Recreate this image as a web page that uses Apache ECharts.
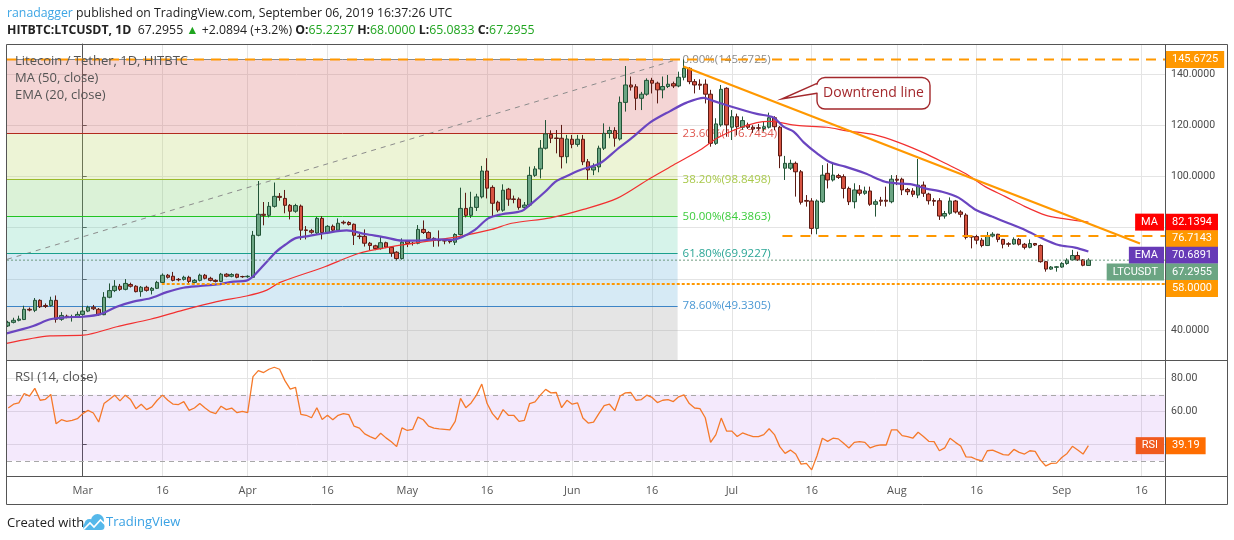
<!DOCTYPE html>
<html>
<head>
<meta charset="utf-8">
<title>LTCUSDT 1D</title>
<script src="https://cdn.jsdelivr.net/npm/echarts@6.0.0/dist/echarts.min.js"></script>
<style>
  html, body { margin: 0; padding: 0; background: #fff; }
  #chart { width: 1234px; height: 540px; }
</style>
</head>
<body>
<div id="chart"></div>
<script>
// LTCUSDT daily candles with MA/EMA, fib retracement and RSI pane.
// x values are days counted from Mar 1 2019 (Feb 15 = -14).
(function () {
  var FIRST_DAY = -14;
  var X_MIN = -14.23, X_MAX = 203.4;
  var PRICE_MIN = 28.3, PRICE_MAX = 151.7;
  var RSI_MIN = 20.8, RSI_MAX = 91.1;

  // [open, close, low, high], one row per day from Feb 15
  var candles = [
    [41.6, 43.0, 41.2, 43.6], [43.0, 43.8, 42.6, 44.8], [43.8, 44.3, 43.4, 45.6], [44.1, 48.1, 43.9, 49.5],
    [48.1, 47.8, 47.3, 48.8], [47.7, 51.6, 47.0, 52.5], [51.6, 49.1, 48.6, 52.0], [49.6, 49.2, 48.6, 50.4],
    [49.6, 51.6, 49.1, 53.0], [51.6, 44.2, 42.9, 53.5], [44.2, 45.7, 43.6, 47.0], [45.4, 45.2, 44.6, 46.0],
    [45.1, 45.3, 43.3, 46.0], [45.2, 46.1, 44.8, 47.2],
    [46.1, 47.4, 45.8, 49.5], [47.4, 48.9, 47.0, 49.5], [48.9, 48.3, 47.8, 49.8], [48.1, 46.0, 45.6, 48.6],
    [46.0, 52.8, 45.8, 54.8], [52.8, 55.4, 52.4, 58.2], [55.4, 57.1, 54.8, 59.5], [57.1, 55.9, 55.3, 58.0],
    [55.9, 58.2, 55.5, 59.9], [57.8, 57.1, 56.6, 58.5], [57.1, 55.0, 54.7, 57.5], [55.0, 56.7, 53.0, 57.2],
    [56.7, 55.5, 55.0, 57.3], [55.5, 56.3, 53.9, 56.8], [56.3, 58.6, 56.0, 59.2], [58.6, 61.4, 58.2, 62.1],
    [61.4, 60.6, 60.1, 61.9], [61.0, 59.4, 59.0, 62.7], [59.8, 59.6, 59.0, 60.3], [59.8, 60.6, 59.3, 61.2],
    [60.6, 59.0, 58.0, 61.2], [58.6, 59.4, 58.2, 59.9], [59.4, 61.4, 59.0, 62.0], [61.4, 60.2, 59.8, 61.9],
    [60.2, 59.4, 59.0, 60.8], [59.4, 59.0, 58.6, 59.8], [59.0, 61.8, 58.7, 62.3], [61.8, 61.0, 60.6, 62.2],
    [61.0, 61.7, 60.6, 62.2], [61.8, 60.6, 60.2, 62.0], [60.9, 60.8, 60.4, 61.2],
    [60.8, 61.0, 60.4, 61.4], [60.6, 77.0, 60.3, 78.7], [77.0, 85.2, 76.6, 98.2], [85.2, 84.8, 80.9, 90.0],
    [84.8, 88.3, 84.0, 90.0], [88.3, 92.2, 87.8, 97.6], [92.2, 91.8, 90.5, 93.5], [91.4, 88.7, 85.6, 94.7],
    [88.7, 86.4, 83.2, 89.2], [86.4, 88.6, 85.8, 89.3], [88.4, 79.0, 75.2, 89.0], [79.1, 78.9, 75.4, 80.6],
    [78.8, 78.2, 77.6, 79.5], [77.9, 83.6, 77.5, 84.2], [83.6, 78.1, 75.4, 84.5], [78.0, 80.5, 77.6, 81.0],
    [80.5, 79.0, 78.6, 81.2], [79.0, 81.7, 78.5, 83.6], [82.1, 81.8, 81.2, 82.8], [82.0, 81.2, 80.8, 82.5],
    [81.3, 77.0, 73.2, 81.6], [76.7, 76.5, 75.5, 77.5], [76.6, 73.9, 72.6, 79.3], [73.9, 73.0, 71.2, 74.4],
    [72.9, 71.8, 71.2, 73.3], [71.8, 74.1, 71.4, 76.5], [74.1, 72.4, 72.0, 74.5], [72.3, 70.0, 68.6, 72.6],
    [70.4, 67.9, 67.1, 70.8], [67.9, 74.3, 67.5, 75.8],
    [74.7, 73.8, 72.4, 75.0], [73.9, 73.8, 73.0, 74.4], [73.9, 79.3, 73.5, 81.0], [79.3, 78.1, 77.5, 82.8],
    [78.1, 75.8, 75.4, 78.6], [75.8, 75.0, 72.5, 76.2], [75.0, 74.9, 72.6, 78.9], [74.9, 74.8, 73.5, 75.5],
    [74.8, 74.5, 73.8, 75.3], [74.3, 77.3, 73.2, 77.8], [77.3, 87.5, 76.9, 95.6], [87.5, 84.8, 84.0, 93.6],
    [84.8, 87.9, 83.8, 94.0], [87.9, 92.0, 86.5, 93.2], [92.0, 102.1, 91.4, 104.1], [102.1, 95.4, 91.4, 107.1],
    [95.7, 89.5, 84.3, 96.5], [89.9, 86.8, 86.0, 90.5], [86.8, 94.6, 86.2, 96.9], [95.0, 91.1, 88.5, 95.5],
    [91.2, 91.0, 89.5, 92.5], [91.1, 87.9, 87.0, 91.8], [87.9, 88.8, 86.8, 90.0], [88.8, 100.4, 88.2, 103.8],
    [100.4, 102.9, 99.8, 104.0], [102.9, 111.0, 99.2, 114.2], [111.0, 116.6, 110.5, 122.0], [116.4, 114.9, 113.0, 118.0],
    [115.0, 114.8, 109.0, 118.1], [114.9, 107.7, 103.1, 120.1], [107.7, 114.6, 105.1, 116.2],
    [114.5, 112.5, 111.0, 116.2], [112.5, 114.5, 111.6, 116.2], [114.5, 105.7, 104.4, 116.2], [105.7, 102.5, 98.6, 106.8],
    [102.5, 103.7, 100.5, 105.1], [103.7, 111.0, 101.6, 112.0], [111.0, 116.8, 110.3, 120.7], [116.8, 117.9, 114.9, 119.4],
    [117.9, 114.9, 111.6, 119.2], [114.6, 128.9, 114.0, 131.2], [128.9, 135.7, 125.3, 143.1], [135.7, 134.9, 133.5, 139.0],
    [135.0, 130.5, 125.9, 136.0], [130.5, 132.1, 125.9, 133.0], [132.1, 137.5, 131.5, 138.3], [137.5, 136.4, 132.4, 138.5],
    [136.4, 133.8, 128.5, 137.0], [133.8, 135.1, 130.5, 139.0], [135.1, 136.0, 134.5, 139.6], [136.2, 135.3, 134.5, 137.0],
    [135.3, 138.7, 134.8, 140.9], [138.7, 142.2, 137.5, 145.6725], [142.2, 137.0, 136.0, 142.6], [137.0, 135.7, 132.4, 138.0],
    [136.0, 135.6, 133.8, 137.9], [136.0, 132.1, 128.5, 137.9], [132.1, 112.9, 111.6, 133.8], [112.9, 120.5, 112.3, 122.7],
    [120.1, 134.0, 119.4, 135.7], [134.4, 120.1, 115.5, 134.8],
    [119.2, 123.3, 114.2, 125.9], [123.3, 119.4, 116.0, 124.5], [119.2, 121.8, 118.2, 123.4], [120.1, 119.2, 118.5, 121.0],
    [119.2, 118.5, 117.0, 120.0], [119.0, 118.8, 117.9, 120.5], [118.7, 119.4, 117.5, 121.3], [119.2, 122.9, 118.7, 124.9],
    [122.9, 119.4, 118.0, 123.5], [119.2, 108.0, 103.2, 119.7], [103.2, 105.1, 98.6, 108.0], [103.2, 105.1, 102.5, 106.5],
    [105.1, 101.8, 92.1, 105.8], [101.8, 89.9, 89.0, 102.5], [90.6, 90.3, 88.2, 92.7], [90.4, 79.7, 77.4, 91.5],
    [79.7, 90.4, 77.4, 91.0], [90.1, 100.5, 89.6, 104.4], [101.2, 98.6, 95.3, 105.1], [98.6, 100.5, 98.0, 105.4],
    [100.3, 99.6, 99.0, 101.0], [99.9, 95.3, 91.4, 100.8], [95.3, 90.1, 88.8, 96.0], [90.1, 94.7, 87.5, 97.3],
    [94.7, 93.4, 92.5, 96.6], [93.4, 94.3, 92.8, 96.0], [94.3, 89.1, 88.5, 96.0], [89.1, 90.1, 84.3, 91.0],
    [90.7, 90.3, 88.5, 92.0], [90.7, 90.3, 88.2, 96.0], [90.1, 98.9, 89.5, 100.5],
    [98.9, 98.5, 96.6, 100.5], [98.9, 94.7, 92.7, 99.5], [94.9, 94.0, 92.7, 95.5], [94.3, 93.0, 92.0, 95.4],
    [92.7, 96.6, 91.5, 106.8], [96.6, 93.4, 92.0, 98.0], [93.1, 90.5, 89.0, 93.6], [90.6, 90.3, 88.5, 91.5],
    [90.5, 84.5, 83.0, 91.5], [84.5, 85.5, 83.5, 86.5], [85.6, 90.4, 85.0, 91.8], [90.4, 86.1, 85.5, 90.8],
    [86.1, 85.2, 84.0, 86.8], [84.9, 76.2, 75.4, 85.6], [76.6, 76.3, 71.9, 77.0], [76.5, 75.1, 73.5, 77.2],
    [75.1, 73.0, 72.3, 76.0], [73.0, 76.7, 72.8, 78.3], [76.7, 77.4, 76.2, 78.2], [77.4, 75.4, 74.3, 77.6],
    [75.4, 73.5, 71.9, 75.6], [73.7, 73.5, 72.5, 74.3], [73.6, 75.4, 73.3, 76.2], [75.4, 73.5, 73.0, 75.9],
    [73.5, 72.3, 71.5, 74.0], [72.3, 73.8, 71.9, 75.4], [73.8, 73.2, 72.8, 74.0], [73.0, 66.7, 66.3, 73.4],
    [66.7, 63.8, 62.8, 67.0], [63.8, 64.6, 63.5, 65.0], [64.5, 64.7, 62.8, 65.0],
    [64.6, 66.0, 64.3, 66.5], [66.0, 67.3, 65.5, 68.0], [67.4, 69.1, 67.0, 71.3], [69.1, 67.4, 67.0, 70.6],
    [67.4, 65.3, 64.9, 67.7], [65.2237, 67.2955, 65.0833, 68.0]
  ];

  // EMA (20) and MA (50) at sample days: [day, value]
  var ema20 = [
    [-14.3, 38.7], [-9.3, 41.6], [-6.1, 44.2], [-3, 45.0], [0.1, 45.2], [3.3, 46.2], [6.4, 49.1], [9.5, 51.1],
    [12.7, 52.4], [15.8, 54.8], [18.9, 56.5], [22.1, 57.2], [25.2, 57.8], [28.3, 58.9], [30.8, 59.3], [32.1, 61.1],
    [34.6, 66.7], [36.5, 70.8], [38, 73.2], [39.9, 75.8], [42.4, 76.7], [45.5, 77.8], [49.6, 78.9], [53.1, 77.5],
    [56.8, 76.2], [60, 74.9], [63.1, 74.9], [66.2, 75.4], [69.4, 75.2], [71.2, 76.2], [73.7, 79.1], [76.2, 83.6],
    [78.8, 85.2], [82.5, 86.5], [84.4, 89.5], [86.9, 94.0], [88.8, 97.9], [90.3, 99.5], [93.5, 102.5], [97.2, 105.1],
    [100.4, 110.5], [103.5, 115.5], [106.6, 121.0], [110.4, 125.5], [113.5, 128.8], [116.7, 130.7], [118.5, 129.5],
    [122.3, 127.0], [126.7, 124.4], [129.8, 123.0], [131.7, 119.4], [133.6, 117.5], [135.5, 113.3], [138, 109.0],
    [140.5, 105.5], [143.3, 103.8], [147, 101.2], [150.8, 97.9], [153, 97.3], [155.8, 96.9], [158.3, 95.3],
    [161.5, 94.0], [164.6, 91.7], [167.7, 87.1], [170.9, 84.3], [174, 81.7], [177.1, 79.1], [180.3, 75.8],
    [183.4, 73.2], [186.5, 72.2], [189, 70.6891]
  ];
  var ma50 = [
    [-14.3, 34.8], [-6.1, 37.7], [0.1, 38.0], [6.4, 41.3], [12.7, 44.2], [18.9, 47.8], [25.2, 51.1], [30.8, 53.3],
    [34.6, 55.6], [37.1, 58.6], [45.5, 64.7], [51.8, 69.9], [58.1, 72.6], [64.3, 74.5], [70.6, 76.5], [76.9, 79.3],
    [80.6, 81.7], [87.9, 83.8], [94.1, 87.1], [100.4, 91.4], [106.6, 99.2], [111.6, 105.1], [116, 110.3],
    [119.2, 114.9], [122.9, 118.5], [126.7, 121.0], [129.2, 121.5], [134.2, 119.9], [139.8, 119.2], [143.6, 117.8],
    [148.9, 116.2], [153.3, 113.3], [158.3, 109.0], [162.1, 105.1], [165.8, 101.2], [169.6, 96.0], [173.4, 92.1],
    [177.1, 88.2], [180.9, 84.9], [184, 83.6], [189, 82.1394]
  ];

  // RSI (14), one value per day from Feb 15
  var rsi14 = [
    62.0, 64.3, 65.1, 70.8, 69.2, 73.9, 66.7, 67.3, 70.2, 52.4, 54.9, 53.9, 54.5, 55.5,
    58.6, 60.6, 59.0, 53.5, 64.7, 67.1, 69.8, 66.3, 69.8, 67.1, 61.6, 64.3, 61.0, 62.7, 66.7, 69.8,
    66.7, 64.3, 64.1, 65.9, 60.6, 62.0, 64.7, 62.0, 59.6, 58.6, 63.1, 61.0, 62.0, 59.2, 60.0,
    59.2, 81.0, 84.7, 83.5, 85.5, 86.7, 85.5, 78.6, 73.5, 74.5, 58.2, 57.6, 56.1, 62.2, 55.1,
    57.6, 54.9, 57.6, 58.6, 58.0, 51.0, 49.8, 46.3, 44.7, 43.3, 46.7, 43.9, 41.6, 38.6, 50.0,
    48.4, 49.0, 56.5, 54.9, 51.0, 49.8, 49.4, 49.1, 48.8, 53.9, 67.8, 62.2, 65.1, 69.8, 76.5,
    64.7, 58.6, 54.9, 61.0, 57.6, 57.6, 53.9, 54.5, 64.7, 65.7, 69.8, 73.3, 71.2, 71.4, 62.2, 66.7,
    64.3, 65.1, 55.9, 52.9, 53.5, 58.6, 63.4, 64.3, 60.4, 69.3, 71.2, 71.4, 66.7, 67.1, 69.8,
    68.4, 65.3, 66.7, 67.1, 65.9, 68.8, 70.0, 64.7, 62.0, 61.6, 56.1, 41.2, 45.9, 55.9, 48.0,
    48.0, 44.7, 46.9, 45.7, 44.7, 44.7, 45.9, 49.4, 45.9, 38.6, 34.5, 36.5, 34.1, 28.0, 28.4,
    24.5, 33.1, 43.7, 41.8, 43.7, 43.3, 40.6, 37.8, 41.2, 41.6, 41.2, 37.8, 39.0, 39.6, 39.6,
    48.8, 48.8, 45.3, 44.7, 43.7, 47.3, 44.7, 41.8, 41.6, 36.1, 37.8, 43.7, 41.2, 39.0, 32.4,
    32.2, 30.8, 30.0, 36.1, 36.5, 35.1, 33.7, 33.5, 36.9, 35.1, 34.1, 36.1, 35.7, 30.4, 26.9,
    28.4, 28.6, 32.0, 34.5, 38.8, 36.5, 34.1, 39.19
  ];

  var tickDays = [0, 15, 31, 46, 61, 76, 92, 107, 122, 137, 153, 168, 184, 199];
  var tickLabels = ["Mar", "16", "Apr", "16", "May", "16", "Jun", "16", "Jul", "16", "Aug", "16", "Sep", "16"];

  var fibNames = ["0.00%", "23.60%", "38.20%", "50.00%", "61.80%", "78.60%"];
  var fibPrices = [145.6725, 116.7454, 98.8498, 84.3863, 69.9227, 49.3305, 23.1005];
  var fibSpan = [-14.23, 111.8];
  var fibAnchor = [[-14.23, 67.6], [111.8, 145.6725]];
  var downtrend = [[112.9, 142.9], [198.7, 73.8]];

  var levelTop = 145.6725, levelMid = 76.7143, levelLow = 58.0;
  var midFrom = 131.5, lowFrom = 14.85;
  var lastPrice = 67.2955, lastRsi = 39.19;

  var FIB_LINE = ["#8a8a8a", "#b22a1e", "#9bbb2c", "#22c422", "#1a9f8c", "#3d85c6"];
  var FIB_TEXT = ["#8a8a8a", "#e05a52", "#a9c94c", "#3ccc3c", "#2aa595", "#4a98d4"];
  var FIB_FILL = ["rgba(211,91,91,0.26)", "rgba(185,212,90,0.25)", "rgba(110,205,95,0.25)",
                  "rgba(90,207,172,0.25)", "rgba(92,170,215,0.25)", "rgba(150,150,150,0.25)"];
  var ORANGE = "#ff9800";
  var FONT = '"Open Sans", "Noto Sans", sans-serif';

  var candleData = candles.map(function (c, i) { return [FIRST_DAY + i, c[0], c[1], c[2], c[3]]; });
  var rsiData = rsi14.map(function (v, i) { return [FIRST_DAY + i, v]; });

  var fibZones = [];
  var fibLevels = [];
  for (var i = 0; i < fibNames.length; i++) {
    fibZones.push([
      { coord: [fibSpan[0], fibPrices[i]], itemStyle: { color: FIB_FILL[i] } },
      { coord: [fibSpan[1], Math.max(fibPrices[i + 1], PRICE_MIN)] }
    ]);
    fibLevels.push([
      { coord: [fibSpan[0], fibPrices[i]],
        lineStyle: { color: FIB_LINE[i], width: 1, type: "solid" },
        label: { show: true, position: "end", distance: 5, color: FIB_TEXT[i], fontSize: 11.5, fontFamily: FONT,
                 formatter: fibNames[i] + "(" + fibPrices[i].toFixed(4) + ")" } },
      { coord: [fibSpan[1], fibPrices[i]] }
    ]);
  }

  function hline(from, to, value, style, z) {
    return { type: "line", xAxisIndex: 0, yAxisIndex: 0, data: [[from, value], [to, value]],
             symbol: "none", silent: true, z: z, lineStyle: style };
  }

  var chart = echarts.init(document.getElementById("chart"));
  chart.setOption({
    animation: false,
    backgroundColor: "#fff",
    grid: [
      { left: 7, top: 44, width: 1158, height: 316, outerBoundsMode: "none" },
      { left: 7, top: 360, width: 1158, height: 116, outerBoundsMode: "none" }
    ],
    xAxis: [
      { type: "value", gridIndex: 0, min: X_MIN, max: X_MAX,
        axisLine: { show: false }, axisTick: { show: false, customValues: tickDays },
        axisLabel: { show: false }, splitLine: { show: true, lineStyle: { color: "#e4e4e4" } } },
      { type: "value", gridIndex: 1, min: X_MIN, max: X_MAX,
        axisLine: { show: false }, axisTick: { show: false, customValues: tickDays },
        axisLabel: { show: true, customValues: tickDays, margin: 9, color: "#555", fontSize: 11, fontFamily: FONT,
                     formatter: function (v) { return tickLabels[tickDays.indexOf(Math.round(v))] || ""; } },
        splitLine: { show: true, lineStyle: { color: "#e4e4e4" } } }
    ],
    yAxis: [
      { type: "value", gridIndex: 0, position: "right", min: PRICE_MIN, max: PRICE_MAX, splitNumber: 5,
        axisLine: { show: true, lineStyle: { color: "#555" } },
        axisTick: { show: true, length: 4, lineStyle: { color: "#555" } },
        axisLabel: { color: "#4a4a4a", fontSize: 10.5, fontFamily: "Roboto", margin: 6,
                     showMinLabel: false, showMaxLabel: false,
                     formatter: function (v) { return (v === 60 || v === 80 || v % 20) ? "" : v.toFixed(4); } },
        splitLine: { lineStyle: { color: "#e4e4e4" } } },
      { type: "value", gridIndex: 1, position: "right", min: RSI_MIN, max: RSI_MAX, splitNumber: 3,
        axisLine: { show: true, lineStyle: { color: "#555" } },
        axisTick: { show: true, length: 4, lineStyle: { color: "#555" } },
        axisLabel: { color: "#4a4a4a", fontSize: 10.5, fontFamily: "Roboto", margin: 6,
                     showMinLabel: false, showMaxLabel: false,
                     formatter: function (v) { return v % 20 ? "" : v.toFixed(2); } },
        splitLine: { lineStyle: { color: "#e4e4e4" } } }
    ],
    series: [
      { name: "fib", type: "line", xAxisIndex: 0, yAxisIndex: 0, data: fibAnchor, symbol: "none", silent: true, z: 1,
        lineStyle: { color: "#8c8c8c", width: 1, type: [5, 5] },
        markArea: { silent: true, data: fibZones },
        markLine: { silent: true, symbol: ["none", "none"], data: fibLevels } },
      { name: "LTCUSDT", type: "candlestick", xAxisIndex: 0, yAxisIndex: 0, data: candleData, barWidth: 4, z: 10,
        itemStyle: { color: "#6ba583", color0: "#d75442", borderColor: "#225437", borderColor0: "#5b1a13", borderWidth: 1 } },
      { name: "MA (50, close)", type: "line", xAxisIndex: 0, yAxisIndex: 0, data: ma50, smooth: 0.3,
        symbol: "none", silent: true, z: 11, lineStyle: { color: "#f23030", width: 1.2 } },
      { name: "EMA (20, close)", type: "line", xAxisIndex: 0, yAxisIndex: 0, data: ema20, smooth: 0.3,
        symbol: "none", silent: true, z: 11, lineStyle: { color: "#6a45c0", width: 2.2 } },
      hline(X_MIN, X_MAX, levelTop, { color: ORANGE, width: 2, type: [10, 7] }, 12),
      hline(midFrom, X_MAX, levelMid, { color: ORANGE, width: 2, type: [10, 8] }, 12),
      hline(lowFrom, X_MAX, levelLow, { color: ORANGE, width: 2, type: [3, 2] }, 12),
      hline(X_MIN, X_MAX, lastPrice, { color: "#6f9a80", width: 1, type: [2, 2] }, 12),
      { name: "Downtrend line", type: "line", xAxisIndex: 0, yAxisIndex: 0, data: downtrend, symbol: "none",
        silent: true, z: 13, lineStyle: { color: ORANGE, width: 2.2 } },
      { name: "RSI (14, close)", type: "line", xAxisIndex: 1, yAxisIndex: 1, data: rsiData, symbol: "none",
        silent: true, z: 5, lineStyle: { color: "#f5792a", width: 1.3 },
        markArea: { silent: true, itemStyle: { color: "rgba(153,51,230,0.11)" },
                    data: [[{ coord: [X_MIN, 70] }, { coord: [X_MAX, 30] }]] },
        markLine: { silent: true, symbol: ["none", "none"], label: { show: false },
                    lineStyle: { color: "#a8a8a8", width: 1, type: [5, 4] },
                    data: [{ yAxis: 70 }, { yAxis: 30 }] } }
    ]
  });

  // right-axis price tags, pushed apart where they would overlap
  var priceTags = [
    { name: "", value: levelTop, color: ORANGE },
    { name: "MA", value: 82.1394, color: "#ff0000" },
    { name: "", value: levelMid, color: ORANGE },
    { name: "EMA", value: 70.6891, color: "#673ab7" },
    { name: "LTCUSDT", value: lastPrice, color: "#6ba583" },
    { name: "", value: levelLow, color: ORANGE }
  ];

  function tag(x, y, text, color, align) {
    return { type: "text", x: x, y: y, z: 100,
             style: { text: text, fill: "#fff", font: "11px Roboto", align: align, verticalAlign: "middle",
                      backgroundColor: color, padding: [3, 6, 2, 6], lineHeight: 12 } };
  }

  var AXIS_X = 1165;
  var els = [];
  var prevY = -1e9;
  priceTags.forEach(function (t) {
    var y = Math.max(chart.convertToPixel({ yAxisIndex: 0 }, t.value), prevY + 16.6);
    prevY = y;
    els.push(tag(AXIS_X + 1, y, t.value.toFixed(4), t.color, "left"));
    if (t.name) els.push(tag(AXIS_X - 1, y, t.name, t.color, "right"));
  });
  var rsiY = chart.convertToPixel({ yAxisIndex: 1 }, lastRsi);
  els.push(tag(AXIS_X + 1, rsiY, lastRsi.toFixed(2), "#ff6d00", "left"));
  els.push(tag(AXIS_X - 1, rsiY, "RSI", "#f05a1e", "right"));

  var FRAME = "#555";
  function line(x1, y1, x2, y2) {
    return { type: "line", z: 90, shape: { x1: x1, y1: y1, x2: x2, y2: y2 }, style: { stroke: FRAME, lineWidth: 1 } };
  }
  function text(x, y, str, font, fill, rich) {
    return { type: "text", x: x, y: y, z: 95,
             style: { text: str, font: font, fill: fill, verticalAlign: "middle", rich: rich } };
  }
  var HEAD = "12.3px " + FONT;
  var CALLOUT = "#a3282c";
  var LOGO = "#55b8ea";

  els.push(
    { type: "rect", z: 90, shape: { x: 6.5, y: 44.5, width: 1221, height: 460 }, style: { fill: null, stroke: FRAME, lineWidth: 1 } },
    line(1165.5, 44, 1165.5, 504), line(6, 360.5, 1228, 360.5), line(6, 476.5, 1228, 476.5),
    text(7, 13, "{u|ranadagger} published on TradingView.com, September 06, 2019 16:37:26 UTC",
         HEAD, "#222", { u: { fill: "#3ea6e5", font: HEAD } }),
    text(7, 30.5, "{b|HITBTC:LTCUSDT, 1D}  67.2955 {g|\u25B2} +2.0894 (+3.2%) {b|O:}{g|65.2237} {b|H:}{g|68.0000} {b|L:}{g|65.0833} {b|C:}{g|67.2955}",
         HEAD, "#222",
         { b: { font: "bold " + HEAD, fill: "#222" }, g: { font: HEAD, fill: "#1fa51f" } }),
    text(15, 61, "Litecoin / Tether, 1D, HITBTC", "13px " + FONT, "#555"),
    text(15, 78, "MA (50, close)", "13px " + FONT, "#555"),
    text(15, 95, "EMA (20, close)", "13px " + FONT, "#555"),
    text(15, 377.5, "RSI (14, close)", "13px " + FONT, "#555"),
    text(7, 523, "Created with", "13px " + FONT, "#222"),
    text(106, 522.7, "TradingView", "13px " + FONT, "#3aa2e4"),
    // TradingView cloud logo
    { type: "circle", z: 95, shape: { cx: 89.5, cy: 524, r: 5 }, style: { fill: LOGO } },
    { type: "circle", z: 95, shape: { cx: 97.5, cy: 520.5, r: 6.5 }, style: { fill: LOGO } },
    { type: "rect", z: 95, shape: { x: 83, y: 523, width: 21.5, height: 7, r: 3.5 }, style: { fill: LOGO } },
    { type: "polyline", z: 96, shape: { points: [[84, 529], [90, 523], [94, 527], [100.5, 520], [104, 523.5]] },
      style: { stroke: "#fff", lineWidth: 1.6, fill: null } },
    // "Downtrend line" callout
    { type: "rect", z: 95, shape: { x: 817, y: 77.5, width: 113, height: 31.5, r: 8 },
      style: { fill: "#fff", stroke: CALLOUT, lineWidth: 1.4 } },
    { type: "polygon", z: 96, shape: { points: [[818.6, 84.2], [783.5, 98.6], [818.6, 92.4]] },
      style: { fill: "#fff", stroke: null } },
    { type: "polyline", z: 97, shape: { points: [[817, 83.3], [781.7, 99], [817, 93.3]] },
      style: { stroke: CALLOUT, lineWidth: 1.4, fill: null } },
    { type: "text", x: 873.5, y: 93.5, z: 98,
      style: { text: "Downtrend line", font: "14px " + FONT, fill: CALLOUT, align: "center", verticalAlign: "middle" } }
  );

  chart.setOption({ graphic: els });
})();
</script>
</body>
</html>
